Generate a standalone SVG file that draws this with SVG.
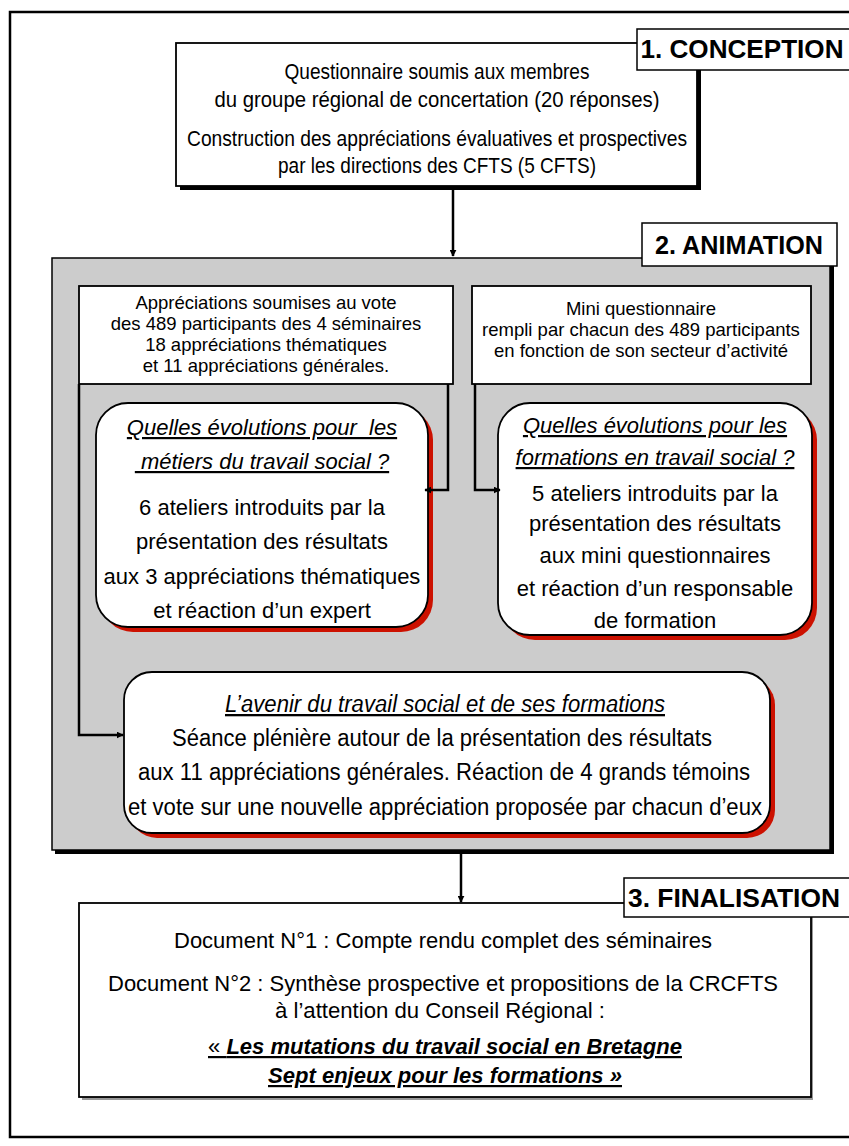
<svg xmlns="http://www.w3.org/2000/svg" width="849" height="1146" viewBox="0 0 849 1146">
<defs>
<marker id="ah" viewBox="0 0 10 10" refX="9" refY="5" markerWidth="7" markerHeight="7" markerUnits="userSpaceOnUse" orient="auto"><path d="M0,0 L10,5 L0,10 z" fill="#000"/></marker>
<style>
.t{font-family:"Liberation Sans",Arial,sans-serif;fill:#000;text-anchor:middle}
.s18{font-size:18.5px}
.s22{font-size:22px}
.n{font-size:22px}
.ti{font-style:italic;text-decoration:underline;white-space:pre}
.lab{font-family:"Liberation Sans",Arial,sans-serif;font-weight:bold;font-size:25px;text-anchor:middle}
.box{fill:#fff;stroke:#000;stroke-width:1.8}
.lbox{fill:#fff;stroke:#000;stroke-width:1.5}
.con{fill:none;stroke:#000;stroke-width:2.5}
</style>
</defs>
<rect x="0" y="0" width="849" height="1146" fill="#fff"/>
<rect x="10" y="12" width="850" height="1125" fill="none" stroke="#000" stroke-width="2.5"/>

<g id="conception">
<rect x="180" y="47" width="521" height="143" fill="#000"/>
<rect class="box" x="176" y="43" width="521" height="143"/>
<text class="t n" x="437" y="79" textLength="305" lengthAdjust="spacingAndGlyphs">Questionnaire soumis aux membres</text>
<text class="t n" x="437" y="107" textLength="445" lengthAdjust="spacingAndGlyphs">du groupe régional de concertation (20 réponses)</text>
<text class="t n" x="437" y="146" textLength="500" lengthAdjust="spacingAndGlyphs">Construction des appréciations évaluatives et prospectives</text>
<text class="t n" x="437" y="173" textLength="318" lengthAdjust="spacingAndGlyphs">par les directions des CFTS (5 CFTS)</text>
</g>
<g id="label1">
<rect class="lbox" x="637" y="29" width="215" height="41"/>
<text class="lab" x="742" y="58" textLength="203" lengthAdjust="spacingAndGlyphs">1. CONCEPTION</text>
</g>

<g id="animation">
<rect x="55" y="261" width="779" height="593" fill="#000"/>
<rect x="52" y="258" width="778" height="592" fill="#cccccc" stroke="#000" stroke-width="1.5"/>
</g>
<g id="label2">
<rect class="lbox" x="642" y="223" width="195" height="43"/>
<text class="lab" x="739" y="254" textLength="168" lengthAdjust="spacingAndGlyphs">2. ANIMATION</text>
</g>

<g id="boxA">
<rect class="box" x="79" y="286" width="374" height="98"/>
<text class="t s18" x="266" y="309">Appréciations soumises au vote</text>
<text class="t s18" x="266" y="330">des 489 participants des 4 séminaires</text>
<text class="t s18" x="266" y="351">18 appréciations thématiques</text>
<text class="t s18" x="266" y="372">et 11 appréciations générales.</text>
</g>
<g id="boxB">
<rect class="box" x="472" y="286" width="339" height="98"/>
<text class="t s18" x="641" y="315">Mini questionnaire</text>
<text class="t s18" x="641" y="336">rempli par chacun des 489 participants</text>
<text class="t s18" x="641" y="357">en fonction de son secteur d’activité</text>
</g>

<g id="metiers">
<rect x="101" y="408" width="332" height="224" rx="32" fill="#cc1100"/>
<rect class="box" x="96" y="403" width="332" height="224" rx="32"/>
<text class="t s22 ti" x="262" y="435">Quelles évolutions pour  les</text>
<text class="t s22 ti" x="262" y="469"> métiers du travail social ?</text>
<text class="t s22" x="262" y="515">6 ateliers introduits par la</text>
<text class="t s22" x="262" y="549">présentation des résultats</text>
<text class="t s22" x="262" y="584">aux 3 appréciations thématiques</text>
<text class="t s22" x="262" y="618">et réaction d’un expert</text>
</g>

<g id="formations">
<rect x="503" y="408" width="314" height="232" rx="32" fill="#cc1100"/>
<rect class="box" x="498" y="403" width="314" height="232" rx="32"/>
<text class="t s22 ti" x="655" y="433">Quelles évolutions pour les</text>
<text class="t s22 ti" x="655" y="465">formations en travail social ?</text>
<text class="t s22" x="655" y="501">5 ateliers introduits par la</text>
<text class="t s22" x="655" y="531">présentation des résultats</text>
<text class="t s22" x="655" y="563">aux mini questionnaires</text>
<text class="t s22" x="655" y="596">et réaction d’un responsable</text>
<text class="t s22" x="655" y="628">de formation</text>
</g>

<g id="avenir">
<rect x="129" y="677" width="646" height="161" rx="28" fill="#cc1100"/>
<rect class="box" x="124" y="672" width="646" height="161" rx="28"/>
<text class="t ti" style="font-size:23px" x="445" y="712" textLength="440" lengthAdjust="spacingAndGlyphs">L’avenir du travail social et de ses formations</text>
<text class="t" style="font-size:23px" x="442" y="746" textLength="540" lengthAdjust="spacingAndGlyphs">Séance plénière autour de la présentation des résultats</text>
<text class="t" style="font-size:23px" x="444" y="780" textLength="612" lengthAdjust="spacingAndGlyphs">aux 11 appréciations générales. Réaction de 4 grands témoins</text>
<text class="t" style="font-size:23px" x="445" y="815" textLength="634" lengthAdjust="spacingAndGlyphs">et vote sur une nouvelle appréciation proposée par chacun d’eux</text>
</g>

<g id="finalisation">
<rect x="82" y="906" width="731" height="194" fill="#999"/>
<rect class="box" x="79" y="903" width="732" height="194"/>
<text class="t n" x="443" y="948" textLength="538" lengthAdjust="spacingAndGlyphs">Document N°1 : Compte rendu complet des séminaires</text>
<text class="t n" x="443" y="991" textLength="670" lengthAdjust="spacingAndGlyphs">Document N°2 : Synthèse prospective et propositions de la CRCFTS</text>
<text class="t n" x="440" y="1018" textLength="330" lengthAdjust="spacingAndGlyphs">à l’attention du Conseil Régional :</text>
<text class="t n" x="445" y="1054" style="font-weight:bold;font-style:italic;text-decoration:underline" textLength="474" lengthAdjust="spacingAndGlyphs"><tspan style="font-weight:normal;font-style:normal">« </tspan>Les mutations du travail social en Bretagne</text>
<text class="t n" x="445" y="1083" style="font-weight:bold;font-style:italic;text-decoration:underline" textLength="354" lengthAdjust="spacingAndGlyphs">Sept enjeux pour les formations »</text>
</g>
<g id="label3">
<rect class="lbox" x="624" y="878" width="230" height="39"/>
<text class="lab" x="734" y="907" textLength="212" lengthAdjust="spacingAndGlyphs">3. FINALISATION</text>
</g>

<g id="connectors">
<path class="con" d="M453,190 V256" marker-end="url(#ah)"/>
<path class="con" d="M448,384 V490 H425" marker-end="url(#ah)"/>
<path class="con" d="M475,384 V490 H500" marker-end="url(#ah)"/>
<path class="con" d="M79,384 V735 H123" marker-end="url(#ah)"/>
<path class="con" d="M461,854 V902" marker-end="url(#ah)"/>
</g>
</svg>
